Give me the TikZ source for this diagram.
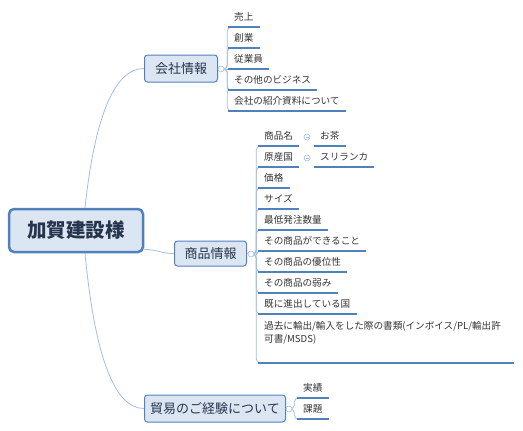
\documentclass[tikz,border=0pt]{standalone}
\usepackage{fontspec}
\setmainfont{Noto Sans CJK JP}
\usetikzlibrary{calc,positioning}
\definecolor{mmfill}{RGB}{220,230,242}
\definecolor{mmblue}{RGB}{79,129,189}
\definecolor{mmline}{RGB}{160,190,232}
\definecolor{mmtext}{RGB}{38,52,78}
\definecolor{leaftext}{RGB}{51,51,51}
\pgfdeclarelayer{bg}
\pgfsetlayers{bg,main}
\tikzset{
  topic/.style={draw=mmblue,fill=mmfill,rounded corners=3pt,line width=1pt,
    text=mmtext,font=\fontsize{13}{15}\selectfont,minimum height=27pt,inner sep=0pt},
  central/.style={topic,line width=2.5pt,rounded corners=5pt,
    font=\fontsize{19.5}{22}\selectfont\bfseries,minimum width=134pt,minimum height=43pt},
  leaf/.style={anchor=south west,inner xsep=6pt,inner ysep=0pt,text height=8pt,
    text depth=6pt,text=leaftext,font=\fontsize{9.6}{13}\selectfont},
  uline/.style={draw=mmblue,line width=1.2pt},
  branch/.style={draw=mmline,line width=.8pt,rounded corners=4pt},
  fold/.style={circle,draw=mmline,fill=white,line width=.6pt,inner sep=0pt,minimum size=6pt},
  foldminus/.style={fold,path picture={\draw[mmline,line width=.5pt]
    ($(path picture bounding box.west)+(1.5,0)$) -- ($(path picture bounding box.east)+(-1.5,0)$);}},
}
\begin{document}
\begin{tikzpicture}[x=1pt,y=-1pt]
  \useasboundingbox (0,0) rectangle (523,431);
  % main topics
  \node[central] (kaga) at (76,230.5) {加賀建設様};
  \node[topic,minimum width=73pt,anchor=west] (kaisha) at (144,68.5) {会社情報};
  \node[topic,minimum width=72pt,minimum height=25pt,anchor=west] (shohin) at (174,253.5) {商品情報};
  \node[topic,minimum width=141pt,anchor=west] (boeki) at (144,408.5) {貿易のご経験について};
  \node[fold] (kaisha-dot) at (221,69) {};
  \node[fold] (shohin-dot) at (251,254) {};
  \node[fold] (boeki-dot) at (289,409) {};

  % 会社情報
  \node[leaf] (uriage) at (228,27) {売上};
  \node[leaf] (sogyo) at (228,48) {創業};
  \node[leaf] (jugyoin) at (228,69) {従業員};
  \node[leaf] (business) at (228,90) {その他のビジネス};
  \node[leaf] (shiryo) at (228,111) {会社の紹介資料について};

  % 商品情報
  \node[leaf] (namae) at (258,146) {商品名};
  \node[leaf] (gensan) at (258,167) {原産国};
  \node[leaf] (kakaku) at (258,188) {価格};
  \node[leaf] (size) at (258,209) {サイズ};
  \node[leaf] (lot) at (258,230) {最低発注数量};
  \node[leaf] (dekiru) at (258,251) {その商品ができること};
  \node[leaf] (yui) at (258,272) {その商品の優位性};
  \node[leaf] (yowami) at (258,293) {その商品の弱み};
  \node[leaf] (shinshutsu) at (258,314) {既に進出している国};
  \node[leaf,text height=21pt,text depth=20pt] (shorui) at (258,363)
    {\parbox[b]{244pt}{\baselineskip=13pt
      過去に輸出/輸入をした際の書類(インボイス/PL/輸出許\\可書/MSDS)}};
  \node[foldminus] (namae-dot) at (307,137) {};
  \node[foldminus] (gensan-dot) at (307,158) {};
  \node[leaf] (ocha) at (314,146) {お茶};
  \node[leaf] (srilanka) at (314,167) {スリランカ};

  % 貿易のご経験について
  \node[leaf] (jisseki) at (297,398) {実績};
  \node[leaf] (kadai) at (297,419) {課題};

  \foreach \n in {uriage,sogyo,jugyoin,business,shiryo,namae,gensan,kakaku,size,lot,
      dekiru,yui,yowami,shinshutsu,shorui,ocha,srilanka,jisseki,kadai}
    \draw[uline] (\n.south west) -- (\n.south east);

  \begin{pgfonlayer}{bg}
    \draw[branch] ($(kaga.north)+(9,0)$) .. controls +(10,-93) and +(-29,0) .. (kaisha.west);
    \draw[branch] ($(kaga.south)+(9,0)$) .. controls +(10,105) and +(-29,0) .. (boeki.west);
    \draw[branch] ($(kaga.east)+(0,19)$) .. controls +(14,0) and +(-14,0) .. (shohin.west);
    \draw[branch] (kaisha.east) -- (kaisha-dot);
    \draw[branch] (shohin.east) -- (shohin-dot);
    \draw[branch] (boeki.east) -- (boeki-dot);
    \foreach \n in {uriage,sogyo,business,shiryo}
      \draw[branch] (kaisha-dot.east) -- ++(3,0) |- ($(\n.south west)+(5,0)$);
    \draw[branch] (kaisha-dot.east) -- (jugyoin.south west);
    \foreach \n in {namae,gensan,kakaku,size,lot,dekiru,yui,yowami,shinshutsu,shorui}
      \draw[branch] (shohin-dot.east) -- ++(2,0) |- ($(\n.south west)+(5,0)$);
    \foreach \n in {jisseki,kadai}
      \draw[branch] (boeki-dot.east) -- ++(2,0) |- ($(\n.south west)+(5,0)$);
  \end{pgfonlayer}
\end{tikzpicture}
\end{document}
